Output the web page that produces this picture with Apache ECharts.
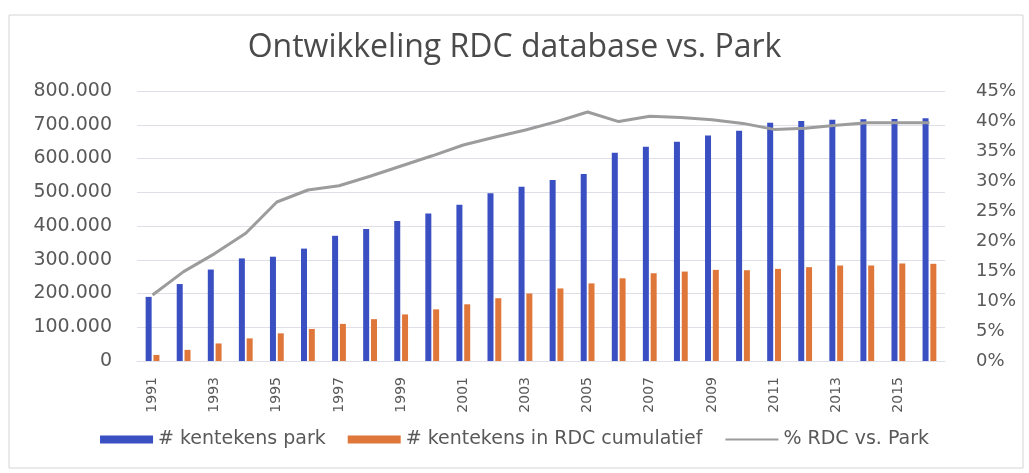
<!DOCTYPE html>
<html>
<head>
<meta charset="utf-8">
<script src="https://cdn.jsdelivr.net/npm/echarts@6/dist/echarts.min.js"></script>
<style>
  html, body { margin: 0; padding: 0; background: #fff; }
  #chart { width: 1029px; height: 473px; }
</style>
</head>
<body>
<div id="chart"></div>
<script>
// jaren op de x-as
var years = ['1991', '1992', '1993', '1994', '1995', '1996', '1997', '1998', '1999', '2000',
    '2001', '2002', '2003', '2004', '2005', '2006', '2007', '2008', '2009', '2010',
    '2011', '2012', '2013', '2014', '2015', '2016'];

// # kentekens park
var parkValues = [190000, 228000, 271000, 304000, 309000, 333000, 371000, 391000, 415000, 437000,
    463000, 497000, 516000, 536000, 554000, 617000, 635000, 650000, 668000, 682000,
    706000, 711000, 715000, 716000, 717000, 719000];

// # kentekens in RDC cumulatief
var rdcValues = [18000, 33000, 52000, 67000, 82000, 95000, 110000, 124000, 138000, 153000,
    168000, 186000, 200000, 215000, 230000, 245000, 260000, 265000, 270000, 269000,
    273000, 278000, 283000, 283000, 289000, 288000];

// % RDC vs. Park
var pctValues = [11.0, 14.9, 17.9, 21.3, 26.5, 28.5, 29.2, 30.8, 32.5, 34.2,
    36.0, 37.3, 38.5, 39.9, 41.5, 39.9, 40.8, 40.6, 40.2, 39.6,
    38.6, 38.8, 39.3, 39.7, 39.7, 39.7];

var TEXT_COLOR = '#595959';
var GRID_COLOR = '#dedfe8';

// 800000 -> "800.000"
function dotThousands(v) {
    return String(v).replace(/\B(?=(\d{3})+(?!\d))/g, '.');
}

var myChart = echarts.init(document.getElementById('chart'));

var option = {
    backgroundColor: '#fff',
    animation: false,
    title: {
        text: 'Ontwikkeling RDC database vs. Park',
        left: 'center',
        top: 27,
        textStyle: {
            fontFamily: 'Open Sans',
            fontSize: 32,
            fontWeight: 'normal',
            color: '#4a4a4a'
        }
    },
    graphic: [{
        type: 'rect',
        shape: { x: 9, y: 15, width: 1014, height: 453 },
        style: { fill: 'none', stroke: '#d4d4d4', lineWidth: 1 },
        silent: true
    }],
    legend: {
        bottom: 19,
        left: 'center',
        itemWidth: 53,
        itemHeight: 8,
        itemGap: 22,
        textStyle: { fontFamily: 'DejaVu Sans', fontSize: 19, color: TEXT_COLOR },
        data: [
            { name: '# kentekens park', icon: 'rect' },
            { name: '# kentekens in RDC cumulatief', icon: 'rect' },
            { name: '% RDC vs. Park', itemStyle: { opacity: 0 } }
        ]
    },
    grid: {
        left: 137,
        right: 84,
        top: 91,
        bottom: 112
    },
    xAxis: {
        type: 'category',
        data: years,
        axisTick: { show: false },
        axisLine: { lineStyle: { color: GRID_COLOR } },
        axisLabel: {
            interval: 1,
            rotate: 90,
            margin: 16,
            fontFamily: 'DejaVu Sans',
            fontSize: 14,
            color: TEXT_COLOR
        }
    },
    yAxis: [{
        type: 'value',
        min: 0,
        max: 800000,
        interval: 100000,
        axisLine: { show: false },
        axisTick: { show: false },
        splitLine: { lineStyle: { color: GRID_COLOR } },
        axisLabel: {
            margin: 25,
            fontFamily: 'DejaVu Sans',
            fontSize: 19,
            color: TEXT_COLOR,
            formatter: dotThousands
        }
    }, {
        type: 'value',
        min: 0,
        max: 45,
        interval: 5,
        axisLine: { show: false },
        axisTick: { show: false },
        splitLine: { show: false },
        axisLabel: {
            margin: 31,
            fontFamily: 'DejaVu Sans',
            fontSize: 18,
            color: TEXT_COLOR,
            formatter: '{value}%'
        }
    }],
    series: [{
        name: '# kentekens park',
        type: 'bar',
        data: parkValues,
        barWidth: 6,
        barGap: '30%',
        itemStyle: { color: '#3a4fc2' }
    }, {
        name: '# kentekens in RDC cumulatief',
        type: 'bar',
        data: rdcValues,
        barWidth: 6,
        itemStyle: { color: '#e0773a' }
    }, {
        name: '% RDC vs. Park',
        type: 'line',
        yAxisIndex: 1,
        data: pctValues,
        symbol: 'none',
        lineStyle: { color: '#9c9c9c', width: 3 },
        itemStyle: { color: '#9c9c9c' }
    }]
};

myChart.setOption(option);
</script>
</body>
</html>
